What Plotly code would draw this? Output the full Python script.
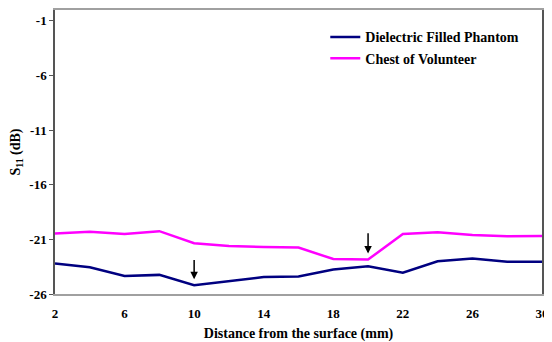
import plotly.graph_objects as go

distance = [2, 4, 6, 8, 10, 12, 14, 16, 18, 20, 22, 24, 26, 28, 30]
phantom = [-23.2, -23.55, -24.35, -24.25, -25.2, -24.85, -24.45, -24.4, -23.75, -23.45, -24.05, -23.0, -22.75, -23.05, -23.05]
volunteer = [-20.45, -20.3, -20.5, -20.25, -21.35, -21.6, -21.7, -21.75, -22.8, -22.85, -20.5, -20.35, -20.6, -20.72, -20.7]
x_ticks = [2, 6, 10, 14, 18, 22, 26, 30]
y_ticks = [-26, -21, -16, -11, -6, -1]
arrow_x = [10, 20]
arrow_tip = [-24.65, -22.3]
arrow_tail = [-22.75, -20.3]

font = "Liberation Serif, serif"
fig = go.Figure()
fig.add_trace(go.Scatter(x=distance, y=phantom, mode="lines", name="<b>Dielectric Filled Phantom</b>",
                         line=dict(color="#000080", width=2.5)))
fig.add_trace(go.Scatter(x=distance, y=volunteer, mode="lines", name="<b>Chest of Volunteer</b>",
                         line=dict(color="#FF00FF", width=2.5)))

for xa, tip, tail in zip(arrow_x, arrow_tip, arrow_tail):
    fig.add_annotation(x=xa, y=tip, ax=xa, ay=tail, xref="x", yref="y", axref="x", ayref="y",
                       text="", showarrow=True, arrowhead=2, arrowsize=1, arrowwidth=1.5,
                       arrowcolor="black")

# page body has an 8px default margin; size and margins compensate for it
fig.update_layout(
    template="none",
    width=544, height=334,
    margin=dict(l=47, r=10, t=1.5, b=47.5, pad=0),
    paper_bgcolor="white", plot_bgcolor="white",
    font=dict(family=font, size=13, color="black"),
    showlegend=True,
    legend=dict(x=0.555, y=0.96, xanchor="left", yanchor="top", bgcolor="rgba(0,0,0,0)",
                font=dict(family=font, size=14, color="black"), itemwidth=30,
                tracegroupgap=0),
    xaxis=dict(range=[2, 30], tickvals=x_ticks, ticktext=[f"<b>{v}</b>" for v in x_ticks],
               showgrid=False, zeroline=False, showline=True, linecolor="#a0a0a0", linewidth=1.5,
               mirror=True, ticks="", ticklabelstandoff=7, automargin=False,
               title=dict(text="<b>Distance from the surface (mm)</b>", font=dict(size=14), standoff=13)),
    yaxis=dict(range=[-26, 0], tickvals=y_ticks, ticktext=[f"<b>{v}</b>" for v in y_ticks],
               showgrid=False, zeroline=False, showline=True, linecolor="#555555", linewidth=1.5,
               mirror=True, ticks="outside", ticklen=4, tickcolor="#555555", automargin=False,
               title=dict(text="<b>S<sub>11</sub> (dB)</b>", font=dict(size=14), standoff=6)),
)
fig.write_html("out.html")
